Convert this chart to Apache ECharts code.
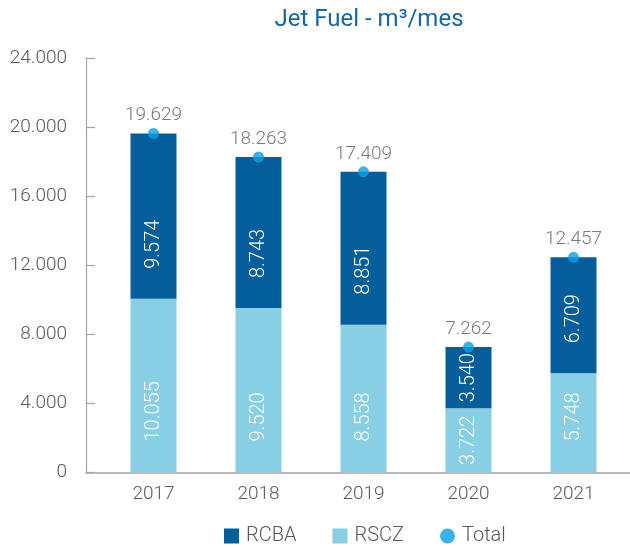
<!DOCTYPE html>
<html>
<head>
<meta charset="utf-8">
<script src="https://cdn.jsdelivr.net/npm/echarts@6/dist/echarts.min.js"></script>
<style>
html,body{margin:0;padding:0;background:#fff;}
#chart{width:630px;height:548px;}
</style>
</head>
<body>
<div id="chart"></div>
<script>
const years = ['2017', '2018', '2019', '2020', '2021'];
const rcba = [9574, 8743, 8851, 3540, 6709];
const rscz = [10055, 9520, 8558, 3722, 5748];
const total = [19629, 18263, 17409, 7262, 12457];
const yTicks = [0, 4000, 8000, 12000, 16000, 20000, 24000];

const FONT = 'Roboto';
const GRAY = '#595959';
const DARK = '#055e9c';
const LIGHT = '#89cfe3';
const DOT = '#0a9fe3';

function fmt(v) {
  return String(Math.round(v)).replace(/\B(?=(\d{3})+(?!\d))/g, '.');
}

const TOP = 58, BOTTOM = 75.5;

// rotated (90deg) labels: local -x points down on screen
function segLabelLayout(gap) {
  return function (p) {
    const r = p.rect, l = p.labelRect;
    const base = r.y + r.height;
    let cy = base - gap - l.height / 2;
    if (cy - l.height / 2 < r.y + 4) cy = r.y + r.height / 2;
    const shift = cy - (l.y + l.height / 2);
    return { dx: -shift };
  };
}

const chart = echarts.init(document.getElementById('chart'), null, { renderer: 'canvas' });
chart.setOption({
  animation: false,
  backgroundColor: '#fff',
  textStyle: { fontFamily: FONT },
  title: {
    text: 'Jet Fuel - m³/mes',
    left: 364, top: 3, textAlign: 'center',
    textStyle: { fontFamily: FONT, fontSize: 24, fontWeight: 'normal', color: '#1466a6' }
  },
  legend: {
    left: 219, top: 521,
    itemWidth: 15, itemHeight: 15, itemGap: 36,
    textStyle: { fontFamily: FONT, fontSize: 20, fontWeight: 300, color: GRAY, padding: [0, 0, 0, 2] },
    data: [
      { name: 'RCBA', icon: 'rect' },
      { name: 'RSCZ', icon: 'rect' },
      { name: 'Total', icon: 'circle' }
    ]
  },
  grid: [
    { left: 101, right: 4, top: TOP, bottom: BOTTOM },
    { left: 86, right: 0, top: TOP, bottom: BOTTOM }
  ],
  xAxis: [
    {
      type: 'category', gridIndex: 0, data: years, boundaryGap: true,
      axisLine: { show: false }, axisTick: { show: false },
      axisLabel: { fontFamily: FONT, fontSize: 19, fontWeight: 300, color: GRAY, margin: 12 }
    },
    {
      type: 'value', gridIndex: 1, min: 0, max: 1,
      axisLine: { show: true, lineStyle: { color: '#a6a6a6', width: 1.5 } },
      axisTick: { show: false }, axisLabel: { show: false }, splitLine: { show: false }
    }
  ],
  yAxis: [
    { type: 'value', gridIndex: 0, min: 0, max: 24000, interval: 4000, show: false, splitLine: { show: false } },
    {
      type: 'value', gridIndex: 1, min: 0, max: 24000, interval: 4000,
      axisLine: { show: true, lineStyle: { color: '#a6a6a6', width: 1.2 } },
      axisTick: { show: true, inside: true, length: 9, lineStyle: { color: '#a6a6a6', width: 1.2 } },
      splitLine: { show: false },
      axisLabel: { fontFamily: FONT, fontSize: 19, fontWeight: 300, color: GRAY, margin: 19, formatter: fmt }
    }
  ],
  series: [
    {
      name: 'RSCZ', type: 'bar', stack: 'jf', xAxisIndex: 0, yAxisIndex: 0,
      data: rscz, barWidth: 46, itemStyle: { color: LIGHT },
      label: { show: true, position: 'inside', rotate: 90, color: '#fff', fontFamily: FONT, fontSize: 20, fontWeight: 300, formatter: p => fmt(p.value) },
      labelLayout: segLabelLayout(31)
    },
    {
      name: 'RCBA', type: 'bar', stack: 'jf', xAxisIndex: 0, yAxisIndex: 0,
      data: rcba, barWidth: 46, itemStyle: { color: DARK },
      label: { show: true, position: 'inside', rotate: 90, color: '#fff', fontFamily: FONT, fontSize: 20, fontWeight: 300, formatter: p => fmt(p.value) },
      labelLayout: segLabelLayout(30)
    },
    {
      name: 'Total', type: 'scatter', xAxisIndex: 0, yAxisIndex: 0,
      data: total, symbol: 'circle', symbolSize: 11, itemStyle: { color: DOT }, z: 5,
      label: { show: true, position: 'top', distance: 3, color: GRAY, fontFamily: FONT, fontSize: 19, fontWeight: 300, formatter: p => fmt(p.value) }
    }
  ]
});
</script>
</body>
</html>
